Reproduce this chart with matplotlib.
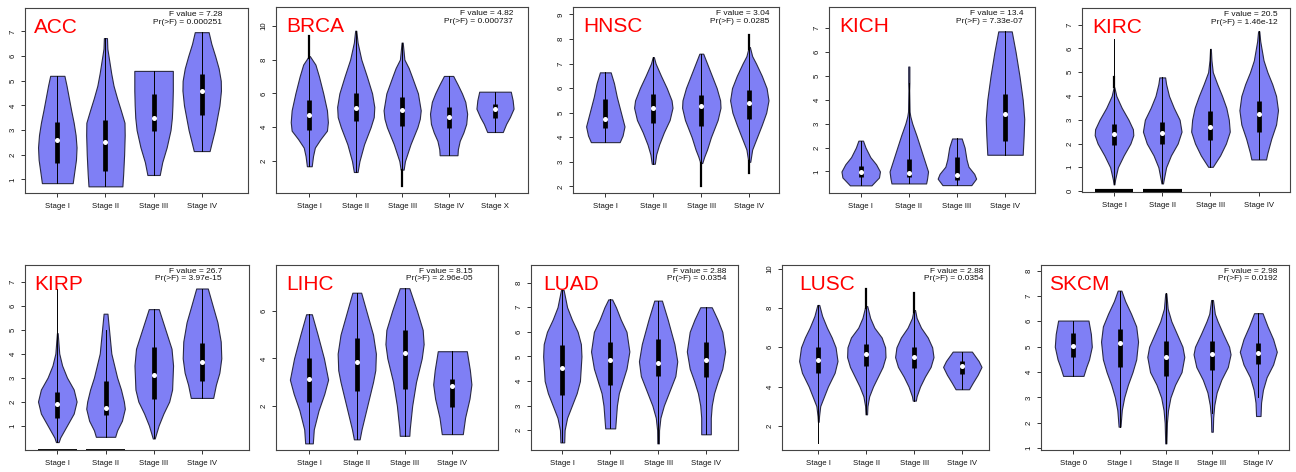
import numpy as np
import matplotlib.pyplot as plt

PANELS = ["ACC", "BRCA", "HNSC", "KICH", "KIRC", "KIRP", "LIHC", "LUAD", "LUSC", "SKCM"]

STAGES = {
    "ACC": ["Stage I", "Stage II", "Stage III", "Stage IV"],
    "BRCA": ["Stage I", "Stage II", "Stage III", "Stage IV", "Stage X"],
    "HNSC": ["Stage I", "Stage II", "Stage III", "Stage IV"],
    "KICH": ["Stage I", "Stage II", "Stage III", "Stage IV"],
    "KIRC": ["Stage I", "Stage II", "Stage III", "Stage IV"],
    "KIRP": ["Stage I", "Stage II", "Stage III", "Stage IV"],
    "LIHC": ["Stage I", "Stage II", "Stage III", "Stage IV"],
    "LUAD": ["Stage I", "Stage II", "Stage III", "Stage IV"],
    "LUSC": ["Stage I", "Stage II", "Stage III", "Stage IV"],
    "SKCM": ["Stage 0", "Stage I", "Stage II", "Stage III", "Stage IV"],
}

F_VALUE = {"ACC": "7.28", "BRCA": "4.82", "HNSC": "3.04", "KICH": "13.4", "KIRC": "20.5",
           "KIRP": "26.7", "LIHC": "8.15", "LUAD": "2.88", "LUSC": "2.88", "SKCM": "2.98"}
P_VALUE = {"ACC": "0.000251", "BRCA": "0.000737", "HNSC": "0.0285", "KICH": "7.33e-07",
           "KIRC": "1.46e-12", "KIRP": "3.97e-15", "LIHC": "2.96e-05", "LUAD": "0.0354",
           "LUSC": "0.0354", "SKCM": "0.0192"}

# box-plot summaries per stage
Q1 = {
    "ACC": [1.65, 1.35, 2.95, 3.6],
    "BRCA": [3.83, 4.35, 4.07, 3.97, 4.53],
    "HNSC": [4.37, 4.58, 4.47, 4.75],
    "KICH": [0.78, 0.78, 0.66, 2.26],
    "KIRC": [1.92, 2.0, 2.16, 2.48],
    "KIRP": [1.32, 1.43, 2.11, 2.85],
    "LIHC": [2.17, 2.63, 2.69, 1.96],
    "LUAD": [3.43, 3.83, 4.21, 4.15],
    "LUSC": [4.67, 5.06, 4.93, 4.62],
    "SKCM": [4.61, 4.22, 3.86, 4.08, 4.31],
}
MEDIAN = {
    "ACC": [2.58, 2.5, 3.5, 4.6],
    "BRCA": [4.7, 5.12, 5.0, 4.63, 5.06],
    "HNSC": [4.75, 5.19, 5.26, 5.4],
    "KICH": [0.99, 0.94, 0.85, 3.39],
    "KIRC": [2.4, 2.44, 2.69, 3.23],
    "KIRP": [1.9, 1.71, 3.11, 3.63],
    "LIHC": [3.11, 3.85, 4.23, 2.85],
    "LUAD": [4.54, 4.85, 4.74, 4.85],
    "LUSC": [5.35, 5.64, 5.49, 5.05],
    "SKCM": [5.04, 5.14, 4.58, 4.7, 4.74],
}
Q3 = {
    "ACC": [3.33, 3.42, 4.45, 5.27],
    "BRCA": [5.61, 6.0, 5.77, 5.22, 5.36],
    "HNSC": [5.54, 5.74, 5.73, 5.93],
    "KICH": [1.25, 1.53, 1.62, 4.23],
    "KIRC": [2.83, 2.92, 3.36, 3.79],
    "KIRP": [2.39, 2.87, 4.26, 4.44],
    "LIHC": [4.0, 4.85, 5.2, 3.14],
    "LUAD": [5.46, 5.6, 5.69, 5.6],
    "LUSC": [6.0, 6.15, 6.03, 5.3],
    "SKCM": [5.56, 5.69, 5.24, 5.24, 5.16],
}
WHISK_LO = {
    "ACC": [0.85, 0.72, 1.18, 2.15],
    "BRCA": [1.7, 1.36, 1.5, 2.35, 3.72],
    "HNSC": [3.8, 2.92, 2.95, 3.0],
    "KICH": [0.42, 0.5, 0.43, 1.7],
    "KIRC": [0.28, 0.32, 1.02, 1.33],
    "KIRP": [0.31, 0.53, 0.46, 2.15],
    "LIHC": [0.41, 0.58, 0.73, 0.8],
    "LUAD": [1.5, 2.07, 1.46, 1.83],
    "LUSC": [1.1, 2.58, 3.28, 3.86],
    "SKCM": [3.85, 1.85, 1.19, 2.38, 3.03],
}
WHISK_HI = {
    "ACC": [5.2, 6.73, 5.4, 6.97],
    "BRCA": [8.2, 9.7, 9.0, 7.03, 6.1],
    "HNSC": [6.64, 7.26, 7.4, 7.67],
    "KICH": [2.29, 4.7, 2.38, 6.86],
    "KIRC": [6.4, 4.78, 5.98, 6.72],
    "KIRP": [6.68, 5.0, 5.85, 6.71],
    "LIHC": [5.86, 6.77, 6.96, 4.3],
    "LUAD": [7.7, 7.32, 7.27, 7.0],
    "LUSC": [8.16, 8.1, 7.9, 5.78],
    "SKCM": [6.03, 7.21, 7.1, 6.84, 6.32],
}

# outlying values that pile up into solid segments: (stage index, low, high)
OUTLIERS = {
    "BRCA": [(0, 8.1, 9.37), (2, 0.55, 1.5)],
    "HNSC": [(2, 2.0, 2.95), (3, 7.6, 8.17), (3, 2.55, 3.05)],
    "KIRC": [(0, 4.36, 4.8)],
    "LUSC": [(1, 8.0, 8.96), (2, 7.8, 8.79)],
}
# samples with zero expression, drawn as a flat bar at 0
ZERO_STAGES = {"KIRC": [0, 1], "KIRP": [0, 1]}

# density outline of every violin: expression levels and relative half-widths
PROFILE_Y = {
    "ACC": [
        [0.85, 1.3, 1.8, 2.3, 2.8, 3.3, 3.8, 4.3, 4.8, 5.2],
        [0.72, 1.2, 2.0, 2.8, 3.3, 3.8, 4.3, 4.8, 5.3, 5.8, 6.3, 6.73],
        [1.18, 1.7, 2.3, 3.0, 3.5, 4.0, 4.6, 5.0, 5.4],
        [2.15, 2.5, 3.0, 3.5, 4.0, 4.6, 5.0, 5.5, 6.0, 6.5, 6.97],
    ],
    "BRCA": [
        [1.7, 2.3, 2.8, 3.3, 3.8, 4.3, 5.0, 6.0, 7.0, 7.7, 8.2],
        [1.36, 2.0, 3.0, 4.0, 4.6, 5.2, 6.0, 7.0, 8.0, 9.0, 9.7],
        [1.5, 2.0, 3.0, 4.0, 4.5, 5.0, 6.0, 7.0, 7.5, 8.0, 9.0],
        [2.35, 2.7, 3.2, 3.7, 4.2, 4.8, 5.5, 6.0, 6.5, 7.03],
        [3.72, 4.2, 4.6, 5.1, 5.6, 6.1],
    ],
    "HNSC": [
        [3.8, 4.07, 4.44, 5.1, 5.64, 6.2, 6.64],
        [2.92, 3.3, 3.7, 4.2, 4.7, 5.2, 5.5, 6.0, 6.5, 7.0, 7.26],
        [2.95, 3.2, 3.5, 4.0, 4.7, 5.2, 5.5, 6.0, 6.5, 7.2, 7.4],
        [3.0, 3.5, 4.0, 4.5, 5.0, 5.5, 6.0, 6.5, 7.0, 7.3, 7.67],
    ],
    "KICH": [
        [0.42, 0.75, 1.0, 1.3, 1.6, 2.0, 2.29],
        [0.5, 0.7, 1.0, 1.5, 2.0, 2.5, 3.0, 3.3, 3.5, 4.4, 4.7, 5.39],
        [0.43, 0.7, 0.9, 1.2, 1.5, 2.0, 2.38],
        [1.7, 2.5, 3.2, 4.0, 5.0, 6.0, 6.86],
    ],
    "KIRC": [
        [0.28, 0.5, 1.0, 1.5, 2.0, 2.35, 2.6, 3.0, 3.5, 4.0, 4.36],
        [0.32, 0.5, 1.0, 1.5, 2.0, 2.5, 3.0, 3.5, 4.0, 4.5, 4.78],
        [1.02, 1.5, 2.0, 2.5, 3.0, 3.5, 4.0, 4.5, 5.0, 5.5, 5.98],
        [1.33, 1.6, 2.2, 2.8, 3.4, 4.0, 4.5, 5.0, 5.5, 6.3, 6.72],
    ],
    "KIRP": [
        [0.31, 0.5, 1.0, 1.5, 2.0, 2.5, 3.0, 3.5, 4.0, 4.85],
        [0.53, 0.8, 1.2, 1.7, 2.0, 2.5, 3.0, 3.5, 4.0, 5.0, 5.66],
        [0.46, 1.0, 1.5, 2.0, 2.5, 3.5, 4.2, 5.0, 5.85],
        [2.15, 2.7, 3.2, 3.8, 4.5, 5.3, 6.0, 6.71],
    ],
    "LIHC": [
        [0.41, 1.0, 1.8, 2.5, 3.1, 4.0, 5.0, 5.86],
        [0.58, 1.0, 2.0, 3.0, 3.5, 4.2, 5.0, 6.0, 6.77],
        [0.73, 1.0, 2.0, 3.0, 4.0, 4.6, 5.2, 6.0, 6.96],
        [0.8, 1.5, 2.3, 2.9, 3.5, 4.3],
    ],
    "LUAD": [
        [1.5, 2.0, 2.5, 3.0, 3.5, 4.0, 5.0, 5.5, 6.0, 6.5, 7.0, 7.7],
        [2.07, 3.0, 3.5, 4.0, 4.5, 5.2, 6.0, 6.5, 7.0, 7.32],
        [1.46, 2.0, 2.5, 3.0, 3.5, 4.2, 4.8, 5.5, 6.5, 7.27],
        [1.83, 2.5, 3.0, 3.5, 4.0, 4.5, 5.2, 6.0, 6.5, 7.0],
    ],
    "LUSC": [
        [2.2, 2.5, 3.0, 3.5, 4.0, 4.7, 5.3, 6.0, 6.5, 7.0, 7.6, 8.16],
        [2.58, 3.0, 3.5, 4.0, 4.5, 5.0, 5.5, 6.0, 6.5, 7.0, 7.5, 8.1],
        [3.28, 3.5, 4.0, 4.5, 5.0, 5.5, 6.0, 6.5, 7.0, 7.5, 7.9],
        [3.86, 4.2, 4.6, 5.0, 5.3, 5.78],
    ],
    "SKCM": [
        [3.85, 4.2, 4.5, 5.0, 5.5, 6.03],
        [1.85, 2.5, 3.0, 3.5, 4.0, 4.5, 5.2, 5.8, 6.3, 6.8, 7.21],
        [1.19, 2.0, 2.5, 3.0, 3.5, 4.0, 4.6, 5.0, 5.5, 6.0, 6.5, 7.1],
        [1.65, 2.2, 2.7, 3.2, 3.7, 4.2, 4.7, 5.0, 5.5, 6.0, 6.3, 6.84],
        [2.27, 2.8, 3.3, 3.8, 4.3, 4.8, 5.3, 5.8, 6.32],
    ],
}
PROFILE_W = {
    "ACC": [
        [0.8, 0.88, 0.97, 1.0, 0.95, 0.85, 0.72, 0.6, 0.48, 0.37],
        [0.88, 0.92, 0.97, 1.0, 0.99, 0.8, 0.6, 0.42, 0.3, 0.2, 0.1, 0.08],
        [0.32, 0.45, 0.68, 0.88, 0.95, 0.98, 1.0, 1.0, 1.0],
        [0.41, 0.52, 0.68, 0.8, 0.92, 1.0, 0.99, 0.88, 0.7, 0.5, 0.36],
    ],
    "BRCA": [
        [0.13, 0.2, 0.3, 0.6, 0.95, 1.0, 0.95, 0.75, 0.52, 0.33, 0.03],
        [0.1, 0.2, 0.45, 0.8, 0.97, 1.0, 0.88, 0.6, 0.3, 0.1, 0.03],
        [0.08, 0.15, 0.45, 0.82, 0.95, 1.0, 0.85, 0.52, 0.35, 0.12, 0.03],
        [0.48, 0.5, 0.6, 0.8, 0.95, 1.0, 0.9, 0.72, 0.5, 0.25],
        [0.42, 0.6, 0.8, 1.0, 0.95, 0.85],
    ],
    "HNSC": [
        [0.75, 0.9, 1.0, 0.78, 0.6, 0.45, 0.28],
        [0.08, 0.15, 0.3, 0.55, 0.85, 1.0, 0.95, 0.7, 0.4, 0.12, 0.03],
        [0.05, 0.15, 0.3, 0.5, 0.85, 1.0, 0.98, 0.8, 0.55, 0.2, 0.1],
        [0.05, 0.15, 0.4, 0.65, 0.88, 1.0, 0.9, 0.65, 0.35, 0.15, 0.03],
    ],
    "KICH": [
        [0.56, 0.95, 1.0, 0.8, 0.5, 0.25, 0.12],
        [0.9, 0.95, 1.0, 0.8, 0.6, 0.4, 0.18, 0.08, 0.04, 0.02, 0.03, 0.03],
        [0.75, 1.0, 0.9, 0.6, 0.5, 0.4, 0.25],
        [0.92, 0.97, 1.0, 0.92, 0.75, 0.55, 0.35],
    ],
    "KIRC": [
        [0.02, 0.06, 0.2, 0.5, 0.85, 1.0, 0.98, 0.75, 0.4, 0.12, 0.02],
        [0.04, 0.08, 0.2, 0.45, 0.8, 1.0, 0.9, 0.6, 0.35, 0.2, 0.15],
        [0.12, 0.5, 0.8, 1.0, 0.95, 0.82, 0.6, 0.35, 0.12, 0.05, 0.02],
        [0.38, 0.45, 0.65, 0.9, 1.0, 0.9, 0.7, 0.45, 0.25, 0.08, 0.03],
    ],
    "KIRP": [
        [0.07, 0.15, 0.5, 0.85, 1.0, 0.85, 0.5, 0.25, 0.1, 0.02],
        [0.5, 0.6, 0.85, 1.0, 0.95, 0.8, 0.6, 0.45, 0.3, 0.18, 0.1],
        [0.05, 0.25, 0.5, 0.8, 0.95, 1.0, 0.92, 0.6, 0.26],
        [0.58, 0.72, 0.9, 1.0, 0.97, 0.8, 0.55, 0.3],
    ],
    "LIHC": [
        [0.2, 0.25, 0.5, 0.8, 1.0, 0.78, 0.45, 0.15],
        [0.15, 0.25, 0.55, 0.85, 0.97, 1.0, 0.85, 0.5, 0.23],
        [0.25, 0.27, 0.4, 0.6, 0.9, 1.0, 0.95, 0.65, 0.25],
        [0.55, 0.67, 0.9, 1.0, 0.92, 0.76],
    ],
    "LUAD": [
        [0.1, 0.12, 0.25, 0.5, 0.75, 0.92, 1.0, 0.97, 0.8, 0.5, 0.25, 0.07],
        [0.26, 0.35, 0.45, 0.65, 0.85, 1.0, 0.85, 0.55, 0.3, 0.1],
        [0.04, 0.05, 0.12, 0.3, 0.55, 0.9, 1.0, 0.85, 0.5, 0.2],
        [0.25, 0.25, 0.3, 0.42, 0.62, 0.85, 1.0, 0.85, 0.6, 0.3],
    ],
    "LUSC": [
        [0.02, 0.04, 0.1, 0.3, 0.5, 0.85, 1.0, 0.9, 0.7, 0.45, 0.2, 0.05],
        [0.04, 0.06, 0.15, 0.35, 0.6, 0.85, 1.0, 0.98, 0.8, 0.42, 0.2, 0.05],
        [0.08, 0.12, 0.3, 0.55, 0.85, 1.0, 0.93, 0.7, 0.35, 0.12, 0.04],
        [0.35, 0.55, 0.8, 1.0, 0.85, 0.5],
    ],
    "SKCM": [
        [0.55, 0.7, 0.85, 1.0, 0.95, 0.82],
        [0.05, 0.12, 0.25, 0.45, 0.7, 0.9, 1.0, 0.9, 0.62, 0.3, 0.1],
        [0.03, 0.06, 0.12, 0.25, 0.5, 0.85, 1.0, 0.9, 0.6, 0.3, 0.1, 0.03],
        [0.04, 0.06, 0.12, 0.25, 0.5, 0.85, 1.0, 0.92, 0.6, 0.3, 0.15, 0.05],
        [0.12, 0.15, 0.25, 0.45, 0.8, 1.0, 0.8, 0.5, 0.23],
    ],
}

YTICKS = {
    "ACC": range(1, 8), "BRCA": range(2, 11, 2), "HNSC": range(2, 10), "KICH": range(1, 8),
    "KIRC": range(0, 8), "KIRP": range(1, 8), "LIHC": [2, 4, 6], "LUAD": range(2, 9),
    "LUSC": range(2, 11, 2), "SKCM": range(1, 9),
}
YLIM = {
    "ACC": (0.45, 7.95), "BRCA": (0.12, 11.1), "HNSC": (1.73, 9.3), "KICH": (0.1, 7.88),
    "KIRC": (-0.04, 7.7), "KIRP": (-0.02, 7.69), "LIHC": (0.13, 7.94), "LUAD": (1.19, 8.72),
    "LUSC": (0.76, 10.2), "SKCM": (0.93, 8.22),
}

# panel frames in figure pixels: left, top, right, bottom
FRAME = {
    "ACC": (25, 8, 248, 193), "BRCA": (276, 7, 528, 193), "HNSC": (573, 7, 779, 193),
    "KICH": (829, 7, 1035, 193), "KIRC": (1082, 8, 1290, 192),
    "KIRP": (25, 265, 249, 450), "LIHC": (276, 265, 498, 450), "LUAD": (531, 265, 738, 450),
    "LUSC": (782, 265, 989, 450), "SKCM": (1041, 265, 1289, 450),
}
# pixel x of first and last group
XSPAN = {
    "ACC": (57.3, 201.7), "BRCA": (309.3, 495), "HNSC": (605.3, 749.3), "KICH": (860.7, 1005),
    "KIRC": (1114, 1258.7), "KIRP": (57.3, 202), "LIHC": (309, 452.3), "LUAD": (562.3, 706),
    "LUSC": (818.3, 962.3), "SKCM": (1073.3, 1258.3),
}
# offsets of the name (from left) and of the statistics (from right), pixels
NAME_DX = {"ACC": 9, "BRCA": 10, "HNSC": 10, "KICH": 10, "KIRC": 10,
           "KIRP": 9, "LIHC": 10, "LUAD": 12, "LUSC": 17, "SKCM": 8}
STAT_DX = {"ACC": 26, "BRCA": 15, "HNSC": 10, "KICH": 12, "KIRC": 12,
           "KIRP": 27, "LIHC": 25, "LUAD": 12, "LUSC": 6, "SKCM": 12}

W, H = 1296, 472
FILL = "#7f7ff5"
EDGE = "#2a2a44"
FONT = ["Liberation Sans", "DejaVu Sans"]

fig = plt.figure(figsize=(W / 100, H / 100), dpi=100)
fig.patch.set_facecolor("white")

for name in PANELS:
    left, top, right, bottom = FRAME[name]
    ax = fig.add_axes([left / W, 1 - bottom / H, (right - left) / W, (bottom - top) / H])
    n = len(STAGES[name])
    p0, p1 = XSPAN[name]
    step = (p1 - p0) / (n - 1)
    ax.set_xlim(1 - (p0 - left) / step, n + (right - p1) / step)
    ax.set_ylim(*YLIM[name])

    for i in range(n):
        x = i + 1
        ys = np.array(PROFILE_Y[name][i])
        half = 0.4 * np.array(PROFILE_W[name][i])
        ax.fill_betweenx(ys, x - half, x + half, facecolor=FILL, edgecolor=EDGE,
                         linewidth=0.8, zorder=2)
        ax.plot([x, x], [WHISK_LO[name][i], WHISK_HI[name][i]], color="black", lw=0.7, zorder=3)
        ax.plot([x, x], [Q1[name][i], Q3[name][i]], color="black", lw=3.4,
                solid_capstyle="butt", zorder=4)
        ax.plot(x, MEDIAN[name][i], "o", color="white", ms=3.6, mec="none", zorder=5)

    for i, lo, hi in OUTLIERS.get(name, []):
        ax.plot([i + 1, i + 1], [lo, hi], color="black", lw=1.6, zorder=3)

    for i in ZERO_STAGES.get(name, []):
        bar_lw = 3.0 if name == "KIRC" else 1.3
        ax.plot([i + 1 - 0.4, i + 1 + 0.4], [0, 0], color="black", lw=bar_lw,
                solid_capstyle="butt", zorder=3)

    ax.set_xticks(range(1, n + 1))
    ax.set_xticklabels(STAGES[name], family=FONT, fontsize=5.6, color="#111111")
    ax.set_yticks(list(YTICKS[name]))
    ax.set_yticklabels([str(v) for v in YTICKS[name]], family=FONT, fontsize=5.6,
                       color="#111111", rotation=90, va="center")
    ax.tick_params(axis="x", length=3, width=0.7, pad=4, colors="#333333", labelcolor="#111111")
    ax.tick_params(axis="y", length=3, width=0.7, pad=3, colors="#333333", labelcolor="#111111")
    for sp in ax.spines.values():
        sp.set_linewidth(0.8)
        sp.set_color("#444444")

    pw, ph = right - left, bottom - top
    ax.text(NAME_DX[name] / pw, 1 - 25 / ph, name, transform=ax.transAxes, color="red",
            fontsize=15, family=FONT, ha="left", va="baseline")
    ax.text(1 - STAT_DX[name] / pw, 1 - 3 / ph,
            "F value = %s\nPr(>F) = %s" % (F_VALUE[name], P_VALUE[name]),
            transform=ax.transAxes, ha="right", va="top", fontsize=6.0, family=FONT,
            color="#111111", linespacing=1.1, multialignment="right")

fig.savefig("out.png", dpi=100, facecolor="white")
